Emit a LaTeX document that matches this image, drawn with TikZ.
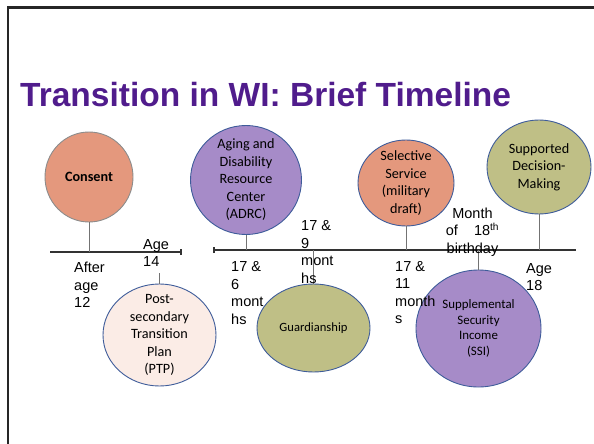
\documentclass[tikz,border=0pt]{standalone}
\usepackage{fontspec}
\setmainfont{Carlito}
\newfontfamily\arialfont{Liberation Sans}
\usetikzlibrary{shapes}

\definecolor{titlepurple}{RGB}{80,28,140}
\definecolor{salmon}{RGB}{228,152,125}
\definecolor{lavender}{RGB}{166,139,200}
\definecolor{olive}{RGB}{191,191,134}
\definecolor{blush}{RGB}{251,236,230}
\definecolor{rimblue}{RGB}{62,92,154}

\begin{document}
\begin{tikzpicture}[x=1pt, y=-1pt,
  bubble/.style={draw=rimblue, line width=0.9pt, ellipse, inner sep=0pt},
  bubbletext/.style={align=center, inner sep=0pt,
    font=\fontsize{14.2}{17.5}\selectfont},
  tag/.style={anchor=north west, align=left, inner sep=0pt,
    font=\arialfont\fontsize{14.5}{17.5}\selectfont},
  axis/.style={line width=1.2pt, draw=black!80},
  stem/.style={line width=1pt, draw=black!55}]
\useasboundingbox (0,0) rectangle (594,444);

\draw[line width=2.3pt, black!85] (8.3,444) -- (8.3,7.5) -- (594,7.5);

\node[anchor=base west, inner sep=0pt, text=titlepurple,
   font=\arialfont\bfseries\fontsize{33.5}{40}\selectfont] (title) at (20,106)
  {Transition in WI: Brief Timeline};

% the two pieces of the timeline
\coordinate (lineA) at (50,252);
\coordinate (lineAend) at (181,252);
\coordinate (lineB) at (214,250);
\coordinate (lineBend) at (576,250);
\draw[axis] (lineA) -- (lineAend);
\draw[axis] ([yshift=-3pt]lineAend) -- ([yshift=3pt]lineAend);
\draw[axis] (lineB) -- (lineBend);
\draw[axis] ([yshift=-3pt]lineB) -- ([yshift=3pt]lineB);

% circles above the line
\node[bubble, 
   fill=salmon, 
   draw=black!45, 
   minimum width=88pt, 
   minimum height=90pt,
   label={[bubbletext, font=\bfseries\fontsize{14.2}{17.5}\selectfont]center:Consent}] 
  (consent) at (89,177) {};
\node[bubble, 
   fill=lavender, 
   minimum width=111pt, 
   minimum height=109pt,
   label={[bubbletext]center:Aging and\\Disability\\Resource\\Center\\(ADRC)}] 
  (adrc) at (246,180) {};
\node[bubble, 
   fill=salmon, 
   minimum width=96pt, 
   minimum height=86pt,
   label={[bubbletext]center:Selective\\Service\\(military\\draft)}] 
  (selective) at (406,183) {};
\node[bubble, 
   fill=olive, 
   minimum width=104pt, 
   minimum height=94pt,
   label={[bubbletext]center:Supported\\Decision-\\Making}] 
  (supported) at (539,167) {};

% circles below the line
\node[bubble, 
   fill=blush, 
   minimum width=113pt, 
   minimum height=102pt,
   label={[bubbletext]center:Post-\\secondary\\Transition\\Plan\\(PTP)}] 
  (ptp) at (159.5,335) {};
\node[bubble, 
   fill=olive, 
   minimum width=113pt, 
   minimum height=88pt,
   label={[bubbletext, font=\fontsize{12.6}{15.5}\selectfont]center:Guardianship}] 
  (guardianship) at (313.5,328) {};
\node[bubble, 
   fill=lavender, 
   minimum width=125pt, 
   minimum height=117pt,
   label={[bubbletext, font=\fontsize{12.9}{15.5}\selectfont]center:Supplemental\\Security\\Income\\(SSI)}] 
  (ssi) at (478.5,328.5) {};

\coordinate (ptpstem) at (159.5,273);

\draw[stem] (consent.south) -- (consent.south |- lineA);
\draw[stem] (adrc.south) -- (adrc.south |- lineB);
\draw[stem] (selective.south) -- (selective.south |- lineB);
\draw[stem] (supported.south) -- (supported.south |- lineB);
\draw[stem] (guardianship.north) -- (guardianship.north |- lineB);
\draw[stem] (ssi.north) -- (ssi.north |- lineB);
\draw[stem] (ptp.north) -- (ptpstem);

% ages along the line
\node[tag] (after12) at (74,262.3) {After\\age\\12};
\node[tag] (age14) at (143,239.3) {Age\\14};
\node[tag] (m6) at (231,261.7) {17 \&\\6\\mont\\hs};
\node[tag] (m9) at (301,220.5) {17 \&\\9\\mont\\hs};
\node[tag] (m11) at (395,261) {17 \&\\11\\month\\s};
\node[tag, anchor=north, align=center] (birthday) at (472.5,207.3)
  {Month\\of\hspace{16pt}18\textsuperscript{th}\\birthday};
\node[tag] (age18) at (526,263.3) {Age\\18};
\end{tikzpicture}
\end{document}
